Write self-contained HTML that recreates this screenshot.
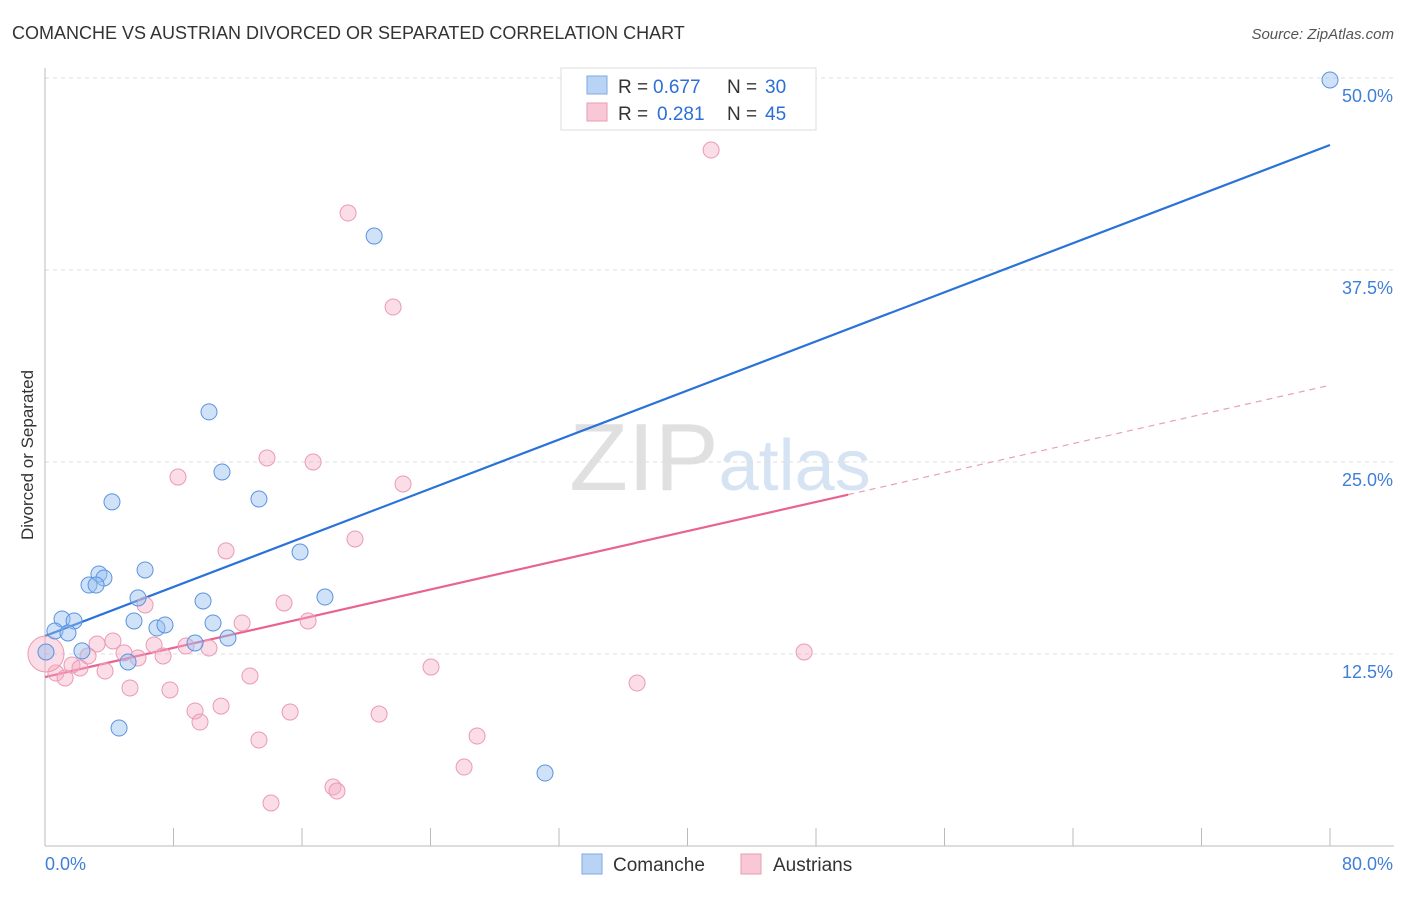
<!DOCTYPE html>
<html><head><meta charset="utf-8"><style>
body{margin:0;background:#fff;font-family:"Liberation Sans",sans-serif;}
svg text{font-family:"Liberation Sans",sans-serif;}
</style></head><body>
<svg id="chart" width="1406" height="892">
<text x="12" y="39" font-size="18" fill="#333">COMANCHE VS AUSTRIAN DIVORCED OR SEPARATED CORRELATION CHART</text>
<text x="1394" y="39" font-size="15" fill="#555" font-style="italic" text-anchor="end">Source: ZipAtlas.com</text>
<text x="33" y="455" font-size="17" fill="#333" text-anchor="middle" transform="rotate(-90 33 455)">Divorced or Separated</text>
<text x="720" y="490" font-size="96" fill="#e4e4e4" text-anchor="middle" font-family="Liberation Serif"><tspan fill="#e0e0e0">ZIP</tspan><tspan fill="#d6e3f3" font-family="Liberation Sans" font-size="72">atlas</tspan></text>
<g id="grid"></g><g id="axes"></g><g id="trends"></g><g id="points"></g>
<g>
<rect x="561" y="68" width="255" height="62" fill="#fff" stroke="#ddd"/>
<rect x="587" y="76" width="20" height="18" fill="#b9d3f5" stroke="#7fa8e0"/>
<rect x="587" y="103" width="20" height="18" fill="#f9c8d6" stroke="#eb9ab3"/>
<g font-size="19" fill="#333">
<text x="618" y="93">R =</text><text x="653" y="93" fill="#2c6fd8">0.677</text><text x="727" y="93">N =</text><text x="765" y="93" fill="#2c6fd8">30</text></g>
<g font-size="19" fill="#333">
<text x="618" y="120">R =</text><text x="657" y="120" fill="#2c6fd8">0.281</text><text x="727" y="120">N =</text><text x="765" y="120" fill="#2c6fd8">45</text></g>
</g>
<g>
<rect x="582" y="854" width="20" height="20" fill="#b9d3f5" stroke="#7fa8e0"/>
<text x="613" y="871" font-size="19" fill="#333">Comanche</text>
<rect x="741" y="854" width="20" height="20" fill="#f9c8d6" stroke="#eb9ab3"/>
<text x="773" y="871" font-size="19" fill="#333">Austrians</text>
</g>
</svg>
<script>
const yTicks=[12.5,25,37.5,50];
const yTickLabels=["12.5%","25.0%","37.5%","50.0%"];
const xTicks=[0,8,16,24,32,40,48,56,64,72,80];
const xEndLabels=["0.0%","80.0%"];
const comancheX=[80.0,20.49,10.21,11.02,4.17,13.32,15.88,6.23,3.36,3.67,2.74,3.18,5.79,9.84,17.43,1.06,1.81,5.54,10.46,6.97,7.47,0.62,1.43,11.39,9.34,2.30,0.06,5.17,4.61,31.13];
const comancheY=[49.87,39.71,28.26,24.35,22.40,22.59,19.14,17.97,17.71,17.45,16.99,16.99,16.15,15.95,16.21,14.78,14.65,14.65,14.52,14.19,14.39,14.0,13.87,13.54,13.22,12.70,12.63,11.98,7.68,4.75];
const austrianX=[41.47,18.87,21.67,8.28,13.82,16.69,22.29,19.30,11.27,6.23,14.88,12.27,16.38,3.24,4.23,8.78,6.79,10.21,4.92,5.79,7.35,2.68,1.68,2.18,3.74,0.68,1.25,12.76,5.29,7.78,24.03,36.86,47.26,9.34,10.96,15.26,20.80,9.65,13.32,26.90,26.09,17.93,18.18,14.07,0.06];
const austrianY=[45.31,41.21,35.09,24.02,25.26,25.0,23.57,19.99,19.21,15.69,15.82,14.52,14.65,13.15,13.35,13.02,13.09,12.89,12.57,12.24,12.37,12.37,11.78,11.59,11.39,11.26,10.94,11.07,10.29,10.16,11.65,10.61,12.63,8.79,9.11,8.72,8.59,8.07,6.90,7.16,5.14,3.84,3.58,2.80,12.5];
const comancheTrend=[13.67,45.64];
const austrianTrend=[11.0,30.0];
const austrianSolidEnd=50;
const NS="http://www.w3.org/2000/svg";
const X=v=>45+v*1285/80, Y=v=>846-v*15.36;
function mk(tag,attrs,parent){const e=document.createElementNS(NS,tag);for(const k in attrs)e.setAttribute(k,attrs[k]);parent.appendChild(e);return e;}
const grid=document.getElementById('grid'),axes=document.getElementById('axes'),trends=document.getElementById('trends'),pts=document.getElementById('points');
yTicks.forEach((t,i)=>{
 const l=mk('line',{x1:45,x2:1394,y1:Y(t),y2:Y(t),stroke:'#ddd','stroke-dasharray':'4,4'},grid);
 
 
 const tx=mk('text',{x:1393,y:Y(t)+24,'font-size':18,fill:'#3f7fd8','text-anchor':'end'},axes);
 tx.textContent=yTickLabels[i];
 
 
});
const yl=mk('line',{x1:45,x2:45,y1:68,y2:846,stroke:'#bbb'},axes);


const xl=mk('line',{x1:45,x2:1394,y1:846,y2:846,stroke:'#bbb'},axes);


xTicks.forEach(t=>{
 const l=mk('line',{x1:X(t),x2:X(t),y1:828,y2:846,stroke:'#bbb'},axes);
 
 
});
[[0,'start'],[80,'end']].forEach((p,i)=>{
 const tx=mk('text',{x:X(p[0])+(i?63:0),y:870,'font-size':18,fill:'#3f7fd8','text-anchor':p[1]},axes);
 tx.textContent=xEndLabels[i];
 
 
});
function pt(x,y,fill,stroke,r){const c=mk('circle',{cx:X(x),cy:Y(y),r:r,fill:fill,stroke:stroke,'stroke-width':1},pts);return c;}
austrianX.forEach((x,i)=>{
 const big=i===austrianX.length-1;
 const c=pt(x,austrianY[i],'rgba(246,170,195,0.4)','#eb9ab3',big?18:8);
 
 
});
comancheX.forEach((x,i)=>{
 const c=pt(x,comancheY[i],'rgba(150,190,240,0.45)','#5b93e0',8);
 
 
});
const lin=(t,x)=>t[0]+(t[1]-t[0])*x/80;
const bl=mk('line',{x1:X(0),y1:Y(lin(comancheTrend,0)),x2:X(80),y2:Y(lin(comancheTrend,80)),stroke:'#2a72d9','stroke-width':2.2},trends);


const pl=mk('line',{x1:X(0),y1:Y(lin(austrianTrend,0)),x2:X(austrianSolidEnd),y2:Y(lin(austrianTrend,austrianSolidEnd)),stroke:'#e8648f','stroke-width':2.2},trends);


const pd=mk('line',{x1:X(austrianSolidEnd),y1:Y(lin(austrianTrend,austrianSolidEnd)),x2:X(80),y2:Y(lin(austrianTrend,80)),stroke:'#e8a0b8','stroke-width':1.2,'stroke-dasharray':'6,5'},trends);


</script>
</body></html>
